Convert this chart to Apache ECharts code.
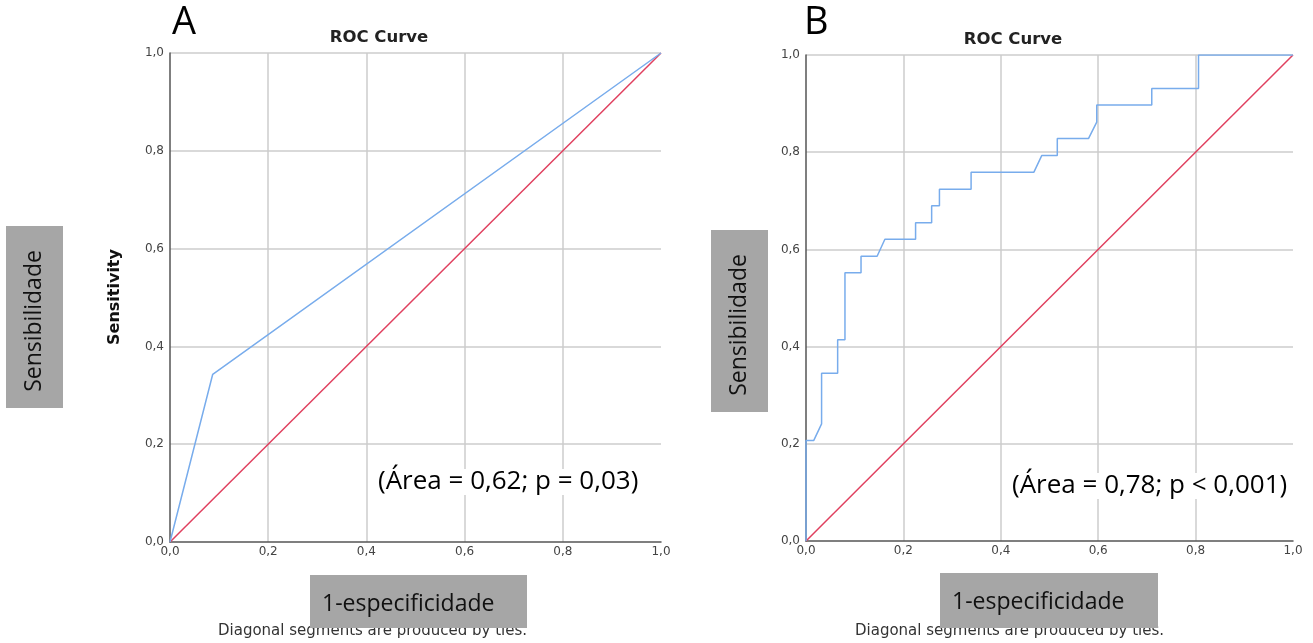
<!DOCTYPE html>
<html>
<head>
<meta charset="utf-8">
<title>ROC Curve</title>
<script src="https://cdn.jsdelivr.net/npm/echarts@6/dist/echarts.min.js"></script>
<style>
  html, body { margin: 0; padding: 0; background: #fff; }
  #chart { width: 1313px; height: 643px; }
</style>
</head>
<body>
<div id="chart"></div>
<script>
// axis ticks shared by both panels
const axisTicks = [0, 0.2, 0.4, 0.6, 0.8, 1.0]

// panel A: ROC curve points (1 - specificity, sensitivity)
const rocAx = [0, 0.087, 1]
const rocAy = [0, 0.343, 1]

// panel B: step ROC curve
const rocBx = [0, 0, 0.016, 0.032, 0.032, 0.065, 0.065, 0.080, 0.080, 0.113, 0.113,
  0.146, 0.162, 0.225, 0.225, 0.258, 0.258, 0.274, 0.274, 0.339, 0.339, 0.468,
  0.484, 0.516, 0.516, 0.580, 0.597, 0.597, 0.710, 0.710, 0.806, 0.806, 1]
const rocBy = [0, 0.207, 0.207, 0.241, 0.345, 0.345, 0.414, 0.414, 0.552, 0.552, 0.586,
  0.586, 0.621, 0.621, 0.655, 0.655, 0.690, 0.690, 0.724, 0.724, 0.759, 0.759,
  0.793, 0.793, 0.828, 0.828, 0.862, 0.897, 0.897, 0.931, 0.931, 1, 1]

// reference diagonal
const diagX = [0, 1]
const diagY = [0, 1]

const panelLetters = ['A', 'B']
const titleText = 'ROC Curve'
const areaTexts = ['(Área = 0,62; p = 0,03)', '(Área = 0,78; p < 0,001)']
const footText = 'Diagonal segments are produced by ties.'

const pairs = (xs, ys) => xs.map((x, i) => [x, ys[i]])
const fmt = (v) => v.toFixed(1).replace('.', ',')

const blue = '#78acec'
const red = '#e0405f'
const gridColor = '#cdcdcd'
const axisColor = '#555'
const boxColor = '#a6a6a6'

function makeAxis(gridIndex, isX) {
  return {
    type: 'value',
    gridIndex,
    min: 0,
    max: 1,
    interval: 0.2,
    axisLine: { show: true, onZero: false, lineStyle: { color: axisColor, width: 1.5 } },
    axisTick: { show: false },
    axisLabel: {
      color: '#444',
      fontFamily: 'DejaVu Sans',
      fontSize: 12,
      margin: isX ? 4 : 6,
      formatter: (v) => (axisTicks.includes(Number(v.toFixed(1))) ? fmt(v) : ''),
    },
    splitLine: {
      show: true,
      showMinLine: false,
      showMaxLine: !isX,
      lineStyle: { color: gridColor, width: 1.5 },
    },
  }
}

const chart = echarts.init(document.getElementById('chart'))

const graphic = []

function addPanel(p) {
  graphic.push(
    { type: 'text', z: 50, style: { text: panelLetters[p.i], x: p.letterX, y: 23, font: '38px "Open Sans"', fill: '#000', textVerticalAlign: 'middle' } },
    { type: 'text', z: 50, style: { text: titleText, x: p.titleX, y: p.titleY, font: 'bold 16.5px "DejaVu Sans"', fill: '#222', textAlign: 'center', textVerticalAlign: 'middle' } },
    { type: 'text', z: 60, style: { text: areaTexts[p.i], x: p.areaX, y: p.areaY, font: '26px "Open Sans"', fill: '#000', textVerticalAlign: 'middle', backgroundColor: '#fff', padding: [0, 2, 0, 2] } },
    { type: 'text', z: 10, style: { text: footText, x: p.footX, y: 631, font: '15px "DejaVu Sans"', fill: '#333', textVerticalAlign: 'middle' } },
    { type: 'rect', z: 20, shape: { x: p.xBox[0], y: p.xBox[1], width: p.xBox[2], height: p.xBox[3] }, style: { fill: boxColor } },
    { type: 'text', z: 30, style: { text: '1-especificidade', x: p.xBox[0] + 12, y: p.xBox[1] + 29, font: '23px "Open Sans"', fill: '#111', textVerticalAlign: 'middle' } },
    { type: 'rect', z: 20, shape: { x: p.yBox[0], y: p.yBox[1], width: p.yBox[2], height: p.yBox[3] }, style: { fill: boxColor } },
    { type: 'text', z: 30, x: p.yBox[0] + p.yBox[2] / 2, y: p.yBox[1] + p.yBox[3] / 2 + 4, rotation: Math.PI / 2, style: { text: 'Sensibilidade', x: 0, y: 0, font: '23px "Open Sans"', fill: '#111', textAlign: 'center', textVerticalAlign: 'middle' } }
  )
}

addPanel({ i: 0, letterX: 172, titleX: 379, titleY: 38, areaX: 376, areaY: 482, footX: 218, xBox: [310, 575, 217, 53], yBox: [6, 226, 57, 182] })
addPanel({ i: 1, letterX: 804, titleX: 1013, titleY: 40, areaX: 1010, areaY: 486, footX: 855, xBox: [940, 573, 218, 55], yBox: [711, 230, 57, 182] })

graphic.push({ type: 'text', z: 50, x: 115, y: 297, rotation: Math.PI / 2, style: { text: 'Sensitivity', x: 0, y: 0, font: 'bold 16px "DejaVu Sans"', fill: '#111', textAlign: 'center', textVerticalAlign: 'middle' } })

const lineSeries = (name, idx, xs, ys, color) => ({
  name,
  type: 'line',
  xAxisIndex: idx,
  yAxisIndex: idx,
  data: pairs(xs, ys),
  symbol: 'none',
  animation: false,
  lineStyle: { color, width: 1.5 },
})

chart.setOption({
  animation: false,
  grid: [
    { left: 170, top: 53, width: 491, height: 489 },
    { left: 806, top: 55, width: 487, height: 486 },
  ],
  xAxis: [makeAxis(0, true), makeAxis(1, true)],
  yAxis: [makeAxis(0, false), makeAxis(1, false)],
  series: [
    lineSeries('Diagonal A', 0, diagX, diagY, red),
    lineSeries('ROC A', 0, rocAx, rocAy, blue),
    lineSeries('Diagonal B', 1, diagX, diagY, red),
    lineSeries('ROC B', 1, rocBx, rocBy, blue),
  ],
  graphic,
})
</script>
</body>
</html>
